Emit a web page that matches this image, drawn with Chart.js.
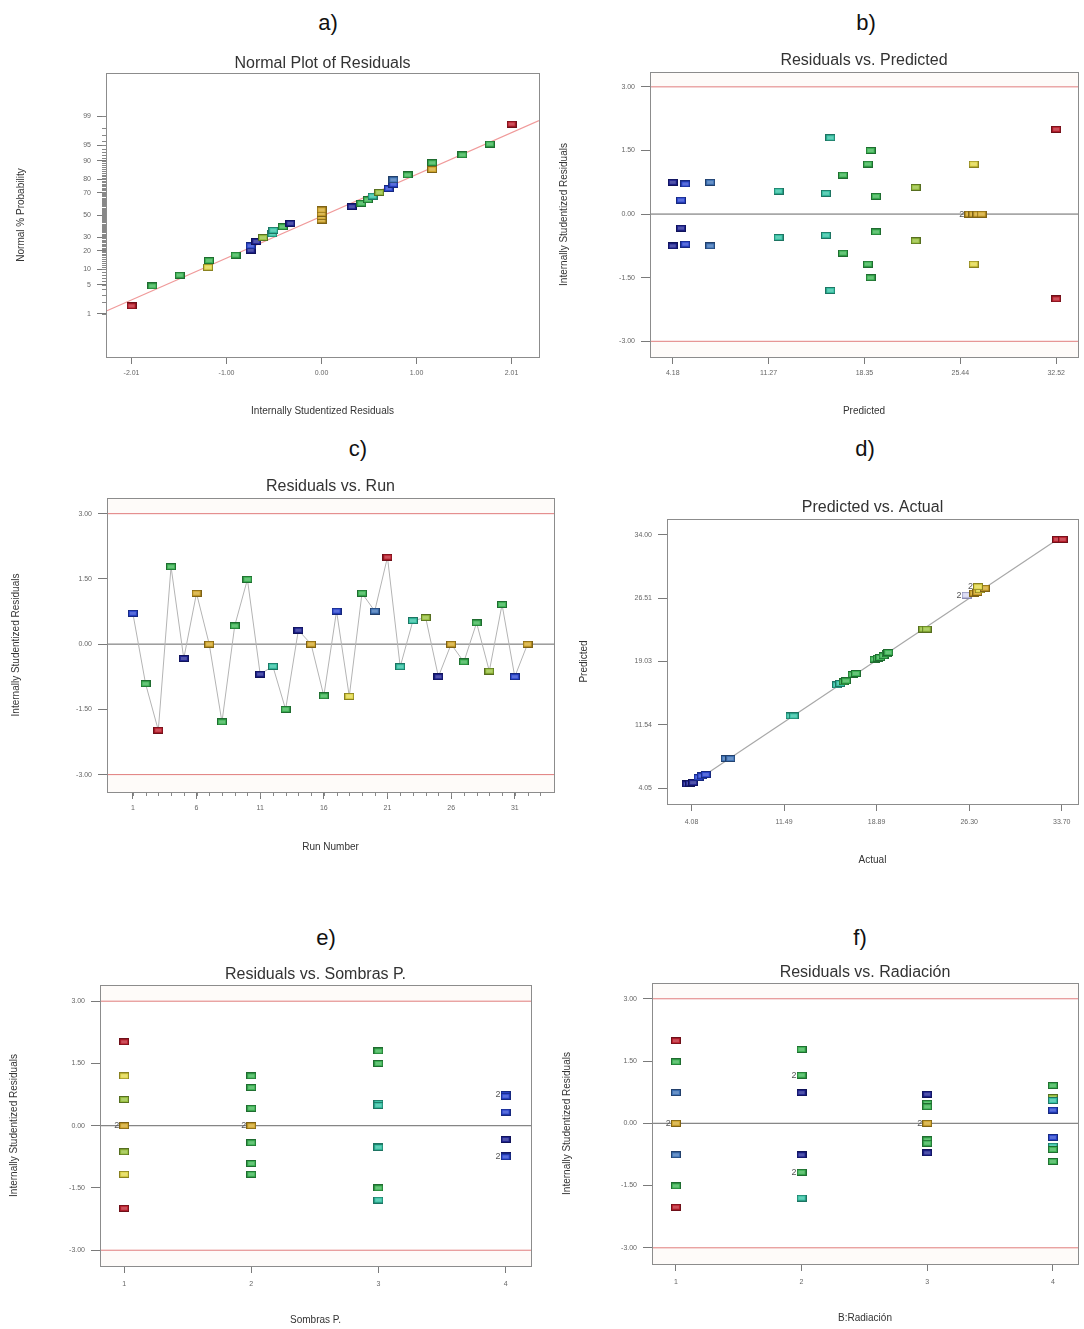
<!DOCTYPE html>
<html>
<head>
<meta charset="utf-8">
<title>Residual diagnostics</title>
<script src="https://cdn.jsdelivr.net/npm/chart.js@4.4.1/dist/chart.umd.min.js"></script>
<style>
  body { margin: 0; background: #fff; width: 1084px; height: 1329px; position: relative; overflow: hidden;
         font-family: "Liberation Sans", Arial, sans-serif; }
  canvas { position: absolute; }
  .tag { position: absolute; font-size: 22px; color: #111; transform: translate(-50%, -50%); }
</style>
</head>
<body>
<div class="tag" style="left:328px;top:23px">a)</div>
<div class="tag" style="left:866px;top:23px">b)</div>
<div class="tag" style="left:358px;top:449px">c)</div>
<div class="tag" style="left:865px;top:449px">d)</div>
<div class="tag" style="left:326px;top:938px">e)</div>
<div class="tag" style="left:860px;top:938px">f)</div>

<canvas id="chartA"></canvas>
<canvas id="chartB"></canvas>
<canvas id="chartC"></canvas>
<canvas id="chartD"></canvas>
<canvas id="chartE"></canvas>
<canvas id="chartF"></canvas>

<script>
// ---------- a) Normal plot of residuals ----------
const aResiduals = [-2.01, -1.79, -1.50, -1.20, -1.19, -0.91, -0.75, -0.75, -0.69, -0.62, -0.52, -0.51, -0.41, -0.33,
  0.00, 0.00, 0.00, 0.00, 0.32, 0.42, 0.49, 0.54, 0.61, 0.71, 0.76, 0.76, 0.91, 1.17, 1.17, 1.49, 1.78, 2.01];
const aProbability = [1.6, 4.7, 7.8, 10.9, 14.1, 17.2, 20.3, 23.4, 26.6, 29.7, 32.8, 35.9, 39.1, 42.2,
  45.3, 48.4, 51.6, 54.7, 57.8, 60.9, 64.1, 67.2, 70.3, 73.4, 76.6, 79.7, 82.8, 85.9, 89.1, 92.2, 95.3, 98.4];
const aColors = ['red', 'green', 'green', 'yellow', 'green', 'green', 'navy', 'blue', 'navy', 'lime', 'teal', 'teal', 'green', 'navy',
  'gold', 'gold', 'gold', 'gold', 'navy', 'green', 'green', 'teal', 'lime', 'blue', 'blue', 'steel', 'green', 'gold', 'green', 'green', 'green', 'red'];
const aRefX = [-2.27, 2.30];
const aRefProb = [1.2, 98.7];
const aXTicks = [-2.01, -1.005, 0, 1.005, 2.01];
const aXLabels = ['-2.01', '-1.00', '0.00', '1.00', '2.01'];
const aProbLabels = [1, 5, 10, 20, 30, 50, 70, 80, 90, 95, 99];

// ---------- b) Residuals vs. Predicted ----------
const bPredicted = [4.18, 5.11, 4.79, 6.95, 4.79, 4.18, 5.11, 6.95, 12.00, 12.00, 15.83, 15.50, 15.50, 15.83, 16.76, 16.76,
  18.80, 18.60, 19.20, 19.20, 18.60, 18.80, 22.13, 22.13, 26.42, 26.42, 26.10, 26.40, 26.70, 27.00, 32.52, 32.52];
const bResiduals = [0.75, 0.71, 0.33, 0.75, -0.33, -0.75, -0.71, -0.75, 0.54, -0.55, 1.80, 0.49, -0.50, -1.80, 0.92, -0.92,
  1.50, 1.18, 0.42, -0.42, -1.18, -1.50, 0.63, -0.63, 1.18, -1.18, 0.00, 0.00, 0.00, 0.00, 2.00, -2.00];
const bColors = ['navy', 'blue', 'blue', 'steel', 'navy', 'navy', 'blue', 'steel', 'teal', 'teal', 'teal', 'teal', 'teal', 'teal', 'green', 'green',
  'green', 'green', 'green', 'green', 'green', 'green', 'lime', 'lime', 'yellow', 'yellow', 'gold', 'gold', 'gold', 'gold', 'red', 'red'];
const bXTicks = [4.18, 11.265, 18.35, 25.435, 32.52];
const bXLabels = ['4.18', '11.27', '18.35', '25.44', '32.52'];
const bDupes = [[26.10, 0]];

// ---------- c) Residuals vs. Run ----------
const cRuns = [1, 2, 3, 4, 5, 6, 7, 8, 9, 10, 11, 12, 13, 14, 15, 16, 17, 18, 19, 20, 21, 22, 23, 24, 25, 26, 27, 28, 29, 30, 31, 32];
const cResiduals = [0.71, -0.91, -1.98, 1.78, -0.33, 1.17, 0.00, -1.79, 0.42, 1.49, -0.69, -0.51, -1.50, 0.32, 0.00, -1.19,
  0.76, -1.20, 1.17, 0.76, 2.00, -0.52, 0.54, 0.61, -0.75, 0.00, -0.41, 0.49, -0.62, 0.91, -0.75, 0.00];
const cColors = ['blue', 'green', 'red', 'green', 'navy', 'gold', 'gold', 'green', 'green', 'green', 'navy', 'teal', 'green', 'navy', 'gold', 'green',
  'blue', 'yellow', 'green', 'steel', 'red', 'teal', 'teal', 'lime', 'navy', 'gold', 'green', 'green', 'lime', 'green', 'blue', 'gold'];
const cXTicks = [1, 6, 11, 16, 21, 26, 31];
const cXLabels = ['1', '6', '11', '16', '21', '26', '31'];

// ---------- d) Predicted vs. Actual ----------
const dActual = [3.71, 3.95, 4.21, 4.64, 4.90, 5.22, 6.82, 7.19, 12.00, 12.26, 15.72, 15.98, 16.25, 16.44, 16.97, 17.23,
  18.72, 18.98, 19.17, 19.44, 19.70, 19.83, 22.62, 22.89, 26.08, 26.69, 26.95, 27.14, 27.54, 27.00, 33.33, 33.78];
const dPredicted = [4.56, 4.64, 4.72, 5.35, 5.51, 5.67, 7.56, 7.56, 12.60, 12.60, 16.27, 16.43, 16.62, 16.74, 17.49, 17.61,
  19.30, 19.42, 19.50, 19.70, 19.93, 20.09, 22.85, 22.85, 26.87, 27.11, 27.19, 27.50, 27.70, 27.86, 33.46, 33.46];
const dColors = ['navy', 'navy', 'navy', 'blue', 'blue', 'blue', 'steel', 'steel', 'teal', 'teal', 'teal', 'teal', 'green', 'green', 'green', 'green',
  'green', 'green', 'green', 'green', 'green', 'green', 'lime', 'lime', 'pale', 'gold', 'gold', 'yellow', 'gold', 'yellow', 'red', 'red'];
const dLineX = [3.8, 33.4];
const dLineY = [4.3, 33.5];
const dXTicks = [4.08, 11.485, 18.89, 26.295, 33.70];
const dXLabels = ['4.08', '11.49', '18.89', '26.30', '33.70'];
const dYTicks = [4.05, 11.54, 19.03, 26.51, 34.00];
const dYLabels = ['4.05', '11.54', '19.03', '26.51', '34.00'];
const dDupes = [[26.08, 26.87], [27.00, 27.86]];

// ---------- e) Residuals vs. Sombras P. ----------
const eLevels = [1, 1, 1, 1, 1, 1, 1, 1, 2, 2, 2, 2, 2, 2, 2, 2, 3, 3, 3, 3, 3, 3, 3, 3, 4, 4, 4, 4, 4, 4, 4, 4];
const eResiduals = [2.02, 1.20, 0.63, 0.00, 0.00, -0.63, -1.17, -1.99, 1.20, 0.92, 0.42, 0.00, 0.00, -0.41, -0.91, -1.17,
  1.80, 1.50, 0.54, 0.49, -0.50, -0.52, -1.50, -1.79, 0.75, 0.75, 0.71, 0.33, -0.33, -0.71, -0.75, -0.75];
const eColors = ['red', 'yellow', 'lime', 'gold', 'gold', 'lime', 'yellow', 'red', 'green', 'green', 'green', 'gold', 'gold', 'green', 'green', 'green',
  'green', 'green', 'teal', 'teal', 'teal', 'teal', 'green', 'teal', 'blue', 'blue', 'blue', 'blue', 'navy', 'navy', 'blue', 'blue'];
const eDupes = [[1, 0], [2, 0], [4, 0.75], [4, -0.75]];

// ---------- f) Residuals vs. Radiación ----------
const fLevels = [1, 1, 1, 1, 1, 1, 1, 1, 2, 2, 2, 2, 2, 2, 2, 2, 3, 3, 3, 3, 3, 3, 3, 3, 4, 4, 4, 4, 4, 4, 4, 4];
const fResiduals = [1.99, 1.48, 0.74, 0.00, 0.00, -0.76, -1.51, -2.02, 1.78, 1.16, 1.16, 0.74, -0.76, -1.18, -1.18, -1.80,
  0.70, 0.48, 0.40, 0.00, 0.00, -0.40, -0.48, -0.71, 0.91, 0.62, 0.55, 0.32, -0.34, -0.55, -0.63, -0.92];
const fColors = ['red', 'green', 'steel', 'gold', 'gold', 'steel', 'green', 'red', 'green', 'green', 'green', 'navy', 'navy', 'green', 'green', 'teal',
  'navy', 'green', 'green', 'gold', 'gold', 'green', 'green', 'navy', 'green', 'lime', 'teal', 'blue', 'blue', 'teal', 'green', 'green'];
const fDupes = [[1, 0], [2, 1.16], [2, -1.18], [3, 0]];

const levelTicks = [1, 2, 3, 4];
const levelLabels = ['1', '2', '3', '4'];
const resTicks = [-3, -1.5, 0, 1.5, 3];
const resLabels = ['-3.00', '-1.50', '0.00', '1.50', '3.00'];

const FONT = '"Liberation Sans", Arial, sans-serif';

// fill / edge colour for every marker family
const PALETTE = {
  navy:   ['#202492', '#10135a'],
  blue:   ['#2b46d0', '#16287e'],
  steel:  ['#3f74b8', '#22406c'],
  teal:   ['#36c2a4', '#1d7462'],
  green:  ['#3db454', '#1f6c30'],
  lime:   ['#98c03e', '#566e20'],
  yellow: ['#e2d84c', '#8a8220'],
  gold:   ['#d3a82e', '#7e6216'],
  red:    ['#bd1f2d', '#6e1019'],
  pale:   ['#d6d6f2', '#8a8ab0']
};

const markerCache = {};
function marker(key) {
  if (markerCache[key]) return markerCache[key];
  const [fill, edge] = PALETTE[key];
  const c = document.createElement('canvas');
  c.width = 10; c.height = 7;
  const g = c.getContext('2d');
  g.fillStyle = edge; g.fillRect(0, 0, 10, 7);
  g.fillStyle = fill; g.fillRect(1, 1, 8, 5);
  g.fillStyle = 'rgba(255,255,255,0.22)'; g.fillRect(2, 2, 6, 3);
  markerCache[key] = c;
  return c;
}

// inverse normal cdf (Acklam), percent -> z
function probit(pct) {
  const p = pct / 100;
  const a = [-39.69683028665376, 220.9460984245205, -275.9285104469687, 138.3577518672690, -30.66479806614716, 2.506628277459239];
  const b = [-54.47609879822406, 161.5858368580409, -155.6989798598866, 66.80131188771972, -13.28068155288572];
  const c = [-0.007784894002430293, -0.3223964580411365, -2.400758277161838, -2.549732539343734, 4.374664141464968, 2.938163982698783];
  const d = [0.007784695709041462, 0.3224671290700398, 2.445134137142996, 3.754408661907416];
  const lo = 0.02425;
  let q, r;
  if (p < lo || p > 1 - lo) {
    q = Math.sqrt(-2 * Math.log(p < lo ? p : 1 - p));
    const z = (((((c[0] * q + c[1]) * q + c[2]) * q + c[3]) * q + c[4]) * q + c[5]) /
              ((((d[0] * q + d[1]) * q + d[2]) * q + d[3]) * q + 1);
    return p < lo ? z : -z;
  }
  q = p - 0.5; r = q * q;
  return (((((a[0] * r + a[1]) * r + a[2]) * r + a[3]) * r + a[4]) * r + a[5]) * q /
         (((((b[0] * r + b[1]) * r + b[2]) * r + b[3]) * r + b[4]) * r + 1);
}

// box frame, title, minor ticks, duplicate counts
const framePlugin = {
  id: 'frame',
  beforeDatasetsDraw(chart, args, opts) {
    if (!opts.band) return;
    const { ctx, chartArea: a } = chart;
    const y = chart.scales.y;
    const p3 = y.getPixelForValue(3), m3 = y.getPixelForValue(-3);
    ctx.save();
    ctx.fillStyle = 'rgba(250,228,218,0.16)';
    ctx.fillRect(a.left, a.top, a.right - a.left, p3 - a.top);
    ctx.fillRect(a.left, m3, a.right - a.left, a.bottom - m3);
    ctx.restore();
  },
  afterDraw(chart, args, opts) {
    const { ctx, chartArea: a } = chart;
    const sx = chart.scales.x, sy = chart.scales.y;
    ctx.save();
    ctx.strokeStyle = '#8c8c8c';
    ctx.lineWidth = 1;
    ctx.strokeRect(Math.round(a.left) + 0.5, Math.round(a.top) + 0.5, Math.round(a.right - a.left), Math.round(a.bottom - a.top));

    ctx.strokeStyle = '#888';
    ctx.beginPath();
    (opts.minorX || []).forEach(v => {
      const px = Math.round(sx.getPixelForValue(v)) + 0.5;
      ctx.moveTo(px, a.bottom); ctx.lineTo(px, a.bottom + 4);
    });
    (opts.minorY || []).forEach(v => {
      const py = Math.round(sy.getPixelForValue(v)) + 0.5;
      ctx.moveTo(a.left, py); ctx.lineTo(a.left - 4, py);
    });
    ctx.stroke();

    ctx.fillStyle = '#333';
    ctx.font = '16px ' + FONT;
    ctx.textAlign = 'center';
    ctx.textBaseline = 'middle';
    ctx.fillText(opts.title, (a.left + a.right) / 2, opts.titleY);

    ctx.font = '9px ' + FONT;
    ctx.textAlign = 'right';
    ctx.fillStyle = '#555';
    (opts.dupes || []).forEach(([x, y]) => {
      ctx.fillText('2', sx.getPixelForValue(x) - 5, sy.getPixelForValue(y));
    });
    ctx.restore();
  }
};

function axis(min, max, tickVals, tickLabels, title, titlePad, size, opt) {
  opt = opt || {};
  return {
    type: 'linear', min, max,
    afterBuildTicks: s => { s.ticks = tickVals.map(v => ({ value: v })); },
    afterFit: s => { if (s.isHorizontal()) s.height = size; else s.width = size; },
    ticks: { autoSkip: false, maxRotation: 0, font: { family: FONT, size: 7 }, color: '#666',
             padding: opt.pad || 5, callback: (v, i) => tickLabels[i] },
    grid: { drawOnChartArea: false, drawTicks: true, tickLength: opt.len || 7, color: '#7a7a7a' },
    border: { display: true, color: '#8c8c8c' },
    title: { display: true, text: title, font: { family: FONT, size: 10 }, color: '#333', padding: titlePad }
  };
}

function points(xs, ys, keys) {
  return { data: xs.map((x, i) => ({ x, y: ys[i] })), pointStyle: keys.map(marker), pointRadius: 5, showLine: false };
}

function line(xs, ys, color, width) {
  return { data: xs.map((x, i) => ({ x, y: ys[i] })), showLine: true, borderColor: color,
           borderWidth: width || 1, pointRadius: 0 };
}

function limitLines(xmin, xmax) {
  return [
    line([xmin, xmax], [0, 0], '#666', 1),
    line([xmin, xmax], [3, 3], '#e07c7c', 1),
    line([xmin, xmax], [-3, -3], '#e07c7c', 1)
  ];
}

function buildChart(id, geo, cfg) {
  const cv = document.getElementById(id);
  cv.width = geo.w; cv.height = geo.h;
  cv.style.left = geo.left + 'px';
  cv.style.top = geo.top + 'px';
  return new Chart(cv, {
    type: 'scatter',
    data: { datasets: cfg.datasets },
    options: {
      responsive: false, animation: false, devicePixelRatio: 1,
      layout: { padding: { top: geo.boxTop - geo.top, right: geo.left + geo.w - geo.boxRight, left: 0, bottom: 0 } },
      plugins: { legend: { display: false }, tooltip: { enabled: false }, frame: cfg.frame },
      scales: { x: cfg.x, y: cfg.y }
    },
    plugins: [framePlugin]
  });
}

// a)
const aMinor = [];
for (let p = 1; p <= 99; p++) aMinor.push(probit(p));
buildChart('chartA', { left: 0, top: 45, w: 545, h: 380, boxTop: 73, boxRight: 540 }, {
  datasets: [
    points(aResiduals, aProbability.map(probit), aColors),
    line(aRefX, aRefProb.map(probit), '#f09a9a', 1.2)
  ],
  x: axis(-2.28, 2.30, aXTicks, aXLabels, 'Internally Studentized Residuals', { bottom: 8 }, 68),
  y: axis(-3.35, 3.35, aProbLabels.map(probit), aProbLabels.map(String), 'Normal % Probability', { top: 15 }, 106, { len: 9, pad: 6 }),
  frame: { title: 'Normal Plot of Residuals', titleY: 19, minorY: aMinor }
});

// b)
buildChart('chartB', { left: 545, top: 45, w: 539, h: 380, boxTop: 72, boxRight: 1082 }, {
  datasets: [points(bPredicted, bResiduals, bColors)].concat(limitLines(2.50, 34.13)),
  x: axis(2.50, 34.13, bXTicks, bXLabels, 'Predicted', { bottom: 8 }, 68),
  y: axis(-3.37, 3.35, resTicks, resLabels, 'Internally Studentized Residuals', { top: 13 }, 105, { len: 9, pad: 6 }),
  frame: { title: 'Residuals vs. Predicted', titleY: 16, band: true, dupes: bDupes }
});

// c)
const cSeries = points(cRuns, cResiduals, cColors);
cSeries.showLine = true;
cSeries.borderColor = '#b4b4b4';
cSeries.borderWidth = 1;
buildChart('chartC', { left: 0, top: 470, w: 560, h: 392, boxTop: 498, boxRight: 555 }, {
  datasets: [cSeries].concat(limitLines(-1.03, 34.08)),
  x: axis(-1.03, 34.08, cXTicks, cXLabels, 'Run Number', { bottom: 9 }, 70),
  y: axis(-3.40, 3.36, resTicks, resLabels, 'Internally Studentized Residuals', { top: 10 }, 107, { len: 9, pad: 6 }),
  frame: { title: 'Residuals vs. Run', titleY: 17, band: true, minorX: cRuns.concat([33]) }
});

// d)
buildChart('chartD', { left: 560, top: 490, w: 524, h: 385, boxTop: 519, boxRight: 1082 }, {
  datasets: [points(dActual, dPredicted, dColors), line(dLineX, dLineY, '#a8a8a8', 1.2)],
  x: axis(2.12, 35.0, dXTicks, dXLabels, 'Actual', { bottom: 9 }, 71, { pad: 7 }),
  y: axis(2.19, 35.86, dYTicks, dYLabels, 'Predicted', { top: 18 }, 107, { len: 9, pad: 6 }),
  frame: { title: 'Predicted vs. Actual', titleY: 18, dupes: dDupes }
});

// e)
buildChart('chartE', { left: 0, top: 955, w: 540, h: 374, boxTop: 985, boxRight: 531 }, {
  datasets: [points(eLevels, eResiduals, eColors)].concat(limitLines(0.81, 4.2)),
  x: axis(0.81, 4.2, levelTicks, levelLabels, 'Sombras P.', { bottom: 3 }, 63, { pad: 7 }),
  y: axis(-3.38, 3.39, resTicks, resLabels, 'Internally Studentized Residuals', { top: 8 }, 100, { len: 9, pad: 6 }),
  frame: { title: 'Residuals vs. Sombras P.', titleY: 20, band: true, dupes: eDupes }
});

// f)
buildChart('chartF', { left: 545, top: 955, w: 539, h: 374, boxTop: 983, boxRight: 1082 }, {
  datasets: [points(fLevels, fResiduals, fColors)].concat(limitLines(0.81, 4.2)),
  x: axis(0.81, 4.2, levelTicks, levelLabels, 'B:Radiación', { bottom: 5 }, 65, { pad: 7 }),
  y: axis(-3.39, 3.38, resTicks, resLabels, 'Internally Studentized Residuals', { top: 16 }, 107, { len: 9, pad: 6 }),
  frame: { title: 'Residuals vs. Radiación', titleY: 18, band: true, dupes: fDupes }
});
</script>
</body>
</html>
